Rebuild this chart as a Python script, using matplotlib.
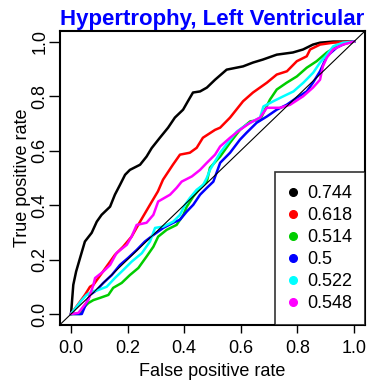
import matplotlib
matplotlib.use("Agg")
import matplotlib.pyplot as plt

plt.rcParams['font.family'] = ['Liberation Sans', 'DejaVu Sans']

# ROC curves (false positive rate, true positive rate)
black_fpr = [0, 0.008, 0.018, 0.032, 0.049, 0.073, 0.091, 0.108, 0.138, 0.155, 0.173, 0.191, 0.208,
             0.244, 0.267, 0.285, 0.314, 0.343, 0.367, 0.396, 0.413, 0.431, 0.456, 0.480, 0.509,
             0.550, 0.608, 0.643, 0.678, 0.727, 0.784, 0.820, 0.855, 0.880, 0.926, 1.0]
black_tpr = [0, 0.107, 0.156, 0.206, 0.266, 0.298, 0.339, 0.364, 0.394, 0.438, 0.474, 0.511, 0.529,
             0.548, 0.578, 0.609, 0.647, 0.684, 0.721, 0.750, 0.781, 0.813, 0.817, 0.831, 0.860,
             0.897, 0.909, 0.923, 0.934, 0.952, 0.960, 0.971, 0.989, 0.996, 1.0, 1.0]

red_fpr = [0, 0.049, 0.067, 0.079, 0.113, 0.155, 0.184, 0.214, 0.244, 0.279, 0.307, 0.325, 0.360,
           0.385, 0.420, 0.444, 0.466, 0.509, 0.527, 0.562, 0.608, 0.643, 0.692, 0.727, 0.763,
           0.798, 0.833, 0.845, 0.880, 0.926, 0.986, 1.0]
red_tpr = [0, 0.070, 0.100, 0.107, 0.156, 0.217, 0.247, 0.284, 0.339, 0.401, 0.450, 0.493, 0.548,
           0.585, 0.592, 0.610, 0.647, 0.676, 0.684, 0.721, 0.781, 0.813, 0.849, 0.879, 0.891,
           0.928, 0.946, 0.971, 0.989, 0.996, 1.0, 1.0]

green_fpr = [0, 0.032, 0.043, 0.061, 0.079, 0.102, 0.132, 0.149, 0.179, 0.208, 0.238, 0.267, 0.291,
             0.308, 0.338, 0.373, 0.397, 0.409, 0.432, 0.456, 0.480, 0.491, 0.527, 0.562, 0.597,
             0.633, 0.668, 0.703, 0.727, 0.762, 0.798, 0.833, 0.868, 0.904, 0.939, 0.986, 1.0]
green_tpr = [0, 0.0, 0.022, 0.040, 0.051, 0.059, 0.070, 0.096, 0.114, 0.143, 0.169, 0.211, 0.247,
             0.284, 0.309, 0.327, 0.364, 0.394, 0.431, 0.463, 0.486, 0.537, 0.578, 0.629, 0.676,
             0.707, 0.713, 0.787, 0.824, 0.849, 0.872, 0.904, 0.928, 0.960, 0.983, 0.997, 1.0]

blue_fpr = [0, 0.020, 0.038, 0.049, 0.067, 0.091, 0.114, 0.144, 0.173, 0.202, 0.232, 0.261, 0.291,
            0.326, 0.361, 0.385, 0.409, 0.432, 0.456, 0.480, 0.503, 0.527, 0.562, 0.597, 0.620,
            0.656, 0.692, 0.727, 0.762, 0.798, 0.833, 0.855, 0.880, 0.904, 0.939, 0.974, 1.0]
blue_tpr = [0, 0.0, 0.0, 0.027, 0.070, 0.088, 0.114, 0.143, 0.180, 0.206, 0.235, 0.266, 0.290,
            0.316, 0.335, 0.346, 0.376, 0.401, 0.438, 0.463, 0.486, 0.555, 0.592, 0.640, 0.665,
            0.702, 0.725, 0.750, 0.768, 0.794, 0.817, 0.849, 0.891, 0.946, 0.978, 0.996, 1.0]

cyan_fpr = [0, 0.002, 0.020, 0.038, 0.055, 0.073, 0.096, 0.126, 0.155, 0.185, 0.214, 0.250, 0.279,
            0.297, 0.326, 0.361, 0.385, 0.403, 0.420, 0.444, 0.467, 0.480, 0.491, 0.527, 0.562,
            0.586, 0.621, 0.668, 0.680, 0.715, 0.750, 0.786, 0.821, 0.856, 0.880, 0.904, 0.927,
            0.961, 1.0]
cyan_tpr = [0, 0.004, 0.027, 0.051, 0.070, 0.082, 0.088, 0.100, 0.132, 0.162, 0.192, 0.223, 0.266,
            0.316, 0.321, 0.339, 0.364, 0.401, 0.426, 0.456, 0.474, 0.500, 0.529, 0.592, 0.640,
            0.670, 0.695, 0.721, 0.762, 0.781, 0.799, 0.817, 0.849, 0.886, 0.923, 0.952, 0.983,
            0.996, 1.0]

magenta_fpr = [0, 0.026, 0.043, 0.061, 0.079, 0.085, 0.114, 0.138, 0.161, 0.197, 0.214, 0.232,
               0.267, 0.291, 0.308, 0.350, 0.373, 0.391, 0.427, 0.456, 0.480, 0.509, 0.527, 0.562,
               0.597, 0.633, 0.668, 0.692, 0.739, 0.774, 0.820, 0.855, 0.880, 0.890, 0.904, 0.926,
               0.961, 1.0]
magenta_tpr = [0, 0.004, 0.027, 0.051, 0.107, 0.132, 0.156, 0.180, 0.224, 0.254, 0.284, 0.327,
               0.335, 0.364, 0.413, 0.438, 0.463, 0.486, 0.505, 0.529, 0.555, 0.585, 0.615, 0.647,
               0.676, 0.702, 0.721, 0.757, 0.757, 0.768, 0.799, 0.831, 0.860, 0.909, 0.941, 0.971,
               0.989, 1.0]

auc_labels = ['0.744', '0.618', '0.514', '0.5', '0.522', '0.548']
colors = ['black', '#FF0000', '#00CD00', '#0000FF', '#00FFFF', '#FF00FF']

curves = [(black_fpr, black_tpr), (red_fpr, red_tpr), (green_fpr, green_tpr),
          (blue_fpr, blue_tpr), (cyan_fpr, cyan_tpr), (magenta_fpr, magenta_tpr)]

fig = plt.figure(figsize=(3.67, 3.86), dpi=100)
ax = fig.add_axes([0.1627, 0.1583, 0.8327, 0.7622])

for (fpr, tpr), col in zip(curves, colors):
    ax.plot(fpr, tpr, color=col, lw=1.8)

ax.plot([-0.04, 1.04], [-0.04, 1.04], color='black', lw=0.8)

ax.set_xlim(-0.04, 1.04)
ax.set_ylim(-0.04, 1.04)
ticks = [0, 0.2, 0.4, 0.6, 0.8, 1.0]
ax.set_xticks(ticks)
ax.set_xticklabels(['0.0', '0.2', '0.4', '0.6', '0.8', '1.0'])
ax.set_yticks(ticks)
ax.set_yticklabels(['0.0', '0.2', '0.4', '0.6', '0.8', '1.0'], rotation=90, va='center')
ax.tick_params(axis='x', length=6, width=1, labelsize=13, pad=5)
ax.tick_params(axis='y', length=8, width=1, labelsize=13, pad=0)
for s in ax.spines.values():
    s.set_linewidth(1.5)

ax.set_xlabel('False positive rate', fontsize=13, labelpad=4)
ax.set_ylabel('True positive rate', fontsize=13)
ax.yaxis.set_label_coords(-0.095, 0.5)
ax.set_title('Hypertrophy, Left Ventricular', color='#0000FF', fontsize=16,
             fontweight='bold', pad=4)

handles = [plt.Line2D([], [], ls='none', marker='o', ms=5.5, color=c) for c in colors]
leg = ax.legend(handles, auc_labels, loc='lower right', borderaxespad=0, fontsize=13,
                frameon=True, fancybox=False, edgecolor='black', handlelength=0.59,
                handletextpad=0.5, labelspacing=0.28, borderpad=0.7)
leg.get_frame().set_linewidth(1.2)

fig.savefig('out.png', dpi=100)
